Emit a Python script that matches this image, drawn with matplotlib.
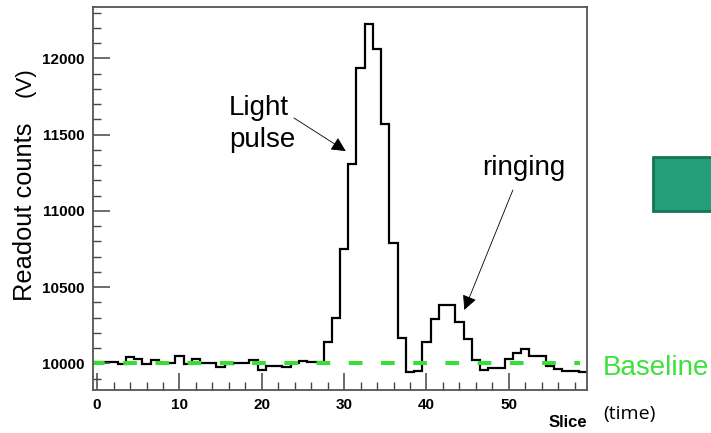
import matplotlib
matplotlib.use("Agg")
import matplotlib.pyplot as plt
import numpy as np
from matplotlib.patches import Rectangle
from matplotlib.ticker import MultipleLocator

# readout per slice
counts = [10012, 10012, 10012, 9995, 10045, 10030, 9997, 10023, 10003, 10003,
          10049, 9997, 10030, 10005, 10005, 9975, 9995, 10000, 10002, 10020,
          9960, 9985, 9985, 9980, 10000, 10015, 10010, 10012, 10140, 10296,
          10748, 11305, 11934, 12223, 12061, 11567, 10792, 10167, 9943, 9948,
          10139, 10290, 10383, 10383, 10270, 10160, 10020, 9957, 9972, 9972,
          10030, 10071, 10093, 10051, 10051, 9982, 9965, 9950, 9952, 9945]
baseline = 10000
x_ticks = [0, 10, 20, 30, 40, 50]
y_ticks = [10000, 10500, 11000, 11500, 12000]

plt.rcParams['font.family'] = ['Liberation Sans', 'DejaVu Sans']

fig = plt.figure(figsize=(7.11, 4.33), dpi=100)
ax = fig.add_axes([0.1308, 0.0993, 0.6948, 0.8845])

edges = np.arange(len(counts) + 1) - 0.5
ax.stairs(counts, edges, baseline=None, color='black', lw=1.6)
ax.axhline(baseline, color='#33e033', lw=2.9, ls=(0.5, (3.4, 4.6)), xmax=0.985)

ax.set_xlim(-0.5, 59.5)
ax.set_ylim(9826, 12336)
ax.set_xticks(x_ticks)
ax.set_yticks(y_ticks)
ax.xaxis.set_minor_locator(MultipleLocator(2))
ax.yaxis.set_minor_locator(MultipleLocator(100))
ax.tick_params(which='both', direction='in', top=False, right=False, color='#444444')
ax.tick_params(which='major', length=12, width=1.1, pad=6, labelsize=11)
ax.tick_params(which='minor', length=6, width=1.0)
for lab in ax.get_xticklabels() + ax.get_yticklabels():
    lab.set_fontweight('bold')
for s in ax.spines.values():
    s.set_color('#555555')
    s.set_linewidth(1.3)

fig.text(0.035, 0.51, 'Readout counts', rotation=90, fontsize=18.3,
         ha='center', va='center')
fig.text(0.035, 0.81, '(V)', rotation=90, fontsize=16,
         ha='center', va='center')
fig.text(0.8256, 0.008, 'Slice', fontsize=12, fontweight='bold',
         ha='right', va='bottom')
fig.text(0.848, 0.022, '(time)', fontsize=14, family=['Open Sans', 'DejaVu Sans'],
         ha='left', va='bottom')
fig.text(0.848, 0.134, 'Baseline', fontsize=20, color='#3ee03e',
         ha='left', va='baseline')

ax.text(16.0, 11419, 'Light\npulse', fontsize=20,
        ha='left', va='baseline', linespacing=1.3)
ax.annotate('', xy=(30.2, 11392), xytext=(23.9, 11609),
            arrowprops=dict(arrowstyle='-|>', color='black', lw=0.6,
                            mutation_scale=22, shrinkA=0, shrinkB=0))
ax.text(51.8, 11235, 'ringing', fontsize=20, ha='center', va='baseline')
ax.annotate('', xy=(44.6, 10351), xytext=(50.5, 11137),
            arrowprops=dict(arrowstyle='-|>', color='black', lw=0.6,
                            mutation_scale=22, shrinkA=0, shrinkB=0))

fig.patches.append(Rectangle((653 / 711, 1 - 211 / 433), 0.1, 54 / 433,
                             transform=fig.transFigure, facecolor='#229e78',
                             edgecolor='#17735a', lw=2))

fig.savefig('out.png', dpi=100)
